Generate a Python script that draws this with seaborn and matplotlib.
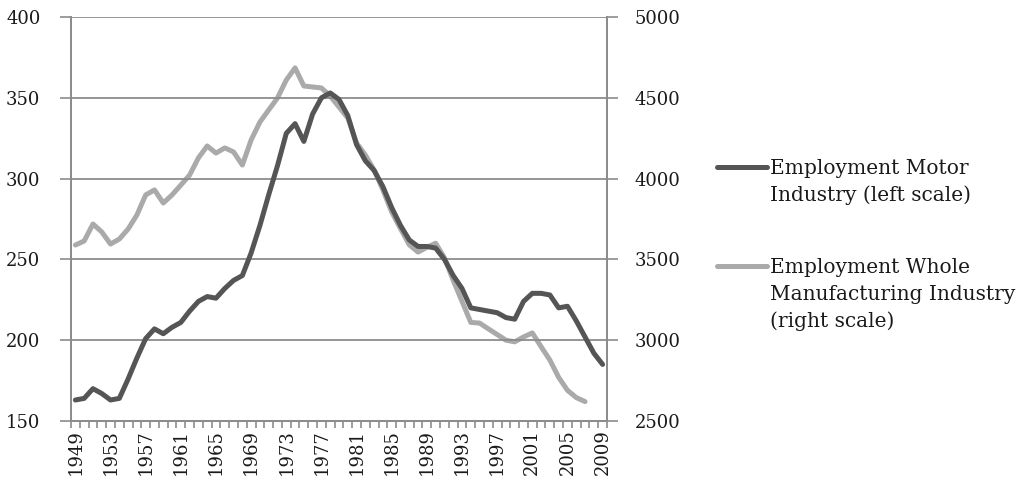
#Importing required libraries
import numpy as np
import pandas as pd
import matplotlib
matplotlib.use("Agg")
import matplotlib.pyplot as plt
from matplotlib.lines import Line2D
import seaborn as sns

#Data
years = list(range(1949, 2010))

motor = [163, 164, 170, 167, 163, 164, 176, 189, 201, 207,
         204, 208, 211, 218, 224, 227, 226, 232, 237, 240,
         254, 271, 290, 308, 328, 334, 323, 340, 350, 353,
         349, 339, 321, 311, 305, 295, 282, 271, 262, 258,
         258, 257, 250, 240, 232, 220, 219, 218, 217, 214,
         213, 224, 229, 229, 228, 220, 221, 212, 202, 192,
         185]

manufacturing = [3589, 3614, 3719, 3670, 3595, 3626, 3688, 3775, 3899, 3930,
                 3849, 3899, 3960, 4022, 4128, 4202, 4158, 4190, 4165, 4084,
                 4239, 4350, 4425, 4499, 4610, 4685, 4573, 4567, 4561, 4511,
                 4443, 4375, 4220, 4146, 4053, 3929, 3793, 3690, 3590, 3545,
                 3575, 3600, 3510, 3370, 3240, 3110, 3106, 3070, 3035, 3000,
                 2990, 3020, 3045, 2960, 2877, 2770, 2690, 2645, 2620]

left_ticks = [150, 200, 250, 300, 350, 400]
right_ticks = [2500, 3000, 3500, 4000, 4500, 5000]

label_motor = "Employment Motor\nIndustry (left scale)"
label_manuf = "Employment Whole\nManufacturing Industry\n(right scale)"

dark = "#555555"
light = "#aaaaaa"
axis_grey = "#8c8c8c"
text_col = "#1a1a1a"

#Building dataframes
df_motor = pd.DataFrame({"pos": np.arange(len(years)), "value": motor})
df_manuf = pd.DataFrame({"pos": np.arange(len(manufacturing)), "value": manufacturing})

sns.set_style("white")
plt.rcParams["font.family"] = ["DejaVu Serif"]
plt.rcParams["font.size"] = 13

fig = plt.figure(figsize=(10.17, 4.9), dpi=100)
ax = fig.add_axes([71/1017, 1-421/490, (607-71)/1017, (421-17)/490])
ax2 = ax.twinx()

#Gridlines (left scale) under the lines
ax.set_ylim(150, 400)
ax.set_yticks(left_ticks)
ax.yaxis.grid(True, color=axis_grey, linewidth=1.3)
ax.set_axisbelow(True)

ax2.set_ylim(2500, 5000)
ax2.set_yticks(right_ticks)

#Drawing the two series
sns.lineplot(data=df_manuf, x="pos", y="value", ax=ax2, color=light,
             linewidth=3.6, legend=False)
sns.lineplot(data=df_motor, x="pos", y="value", ax=ax, color=dark,
             linewidth=3.6, legend=False)
# motor line on top of the manufacturing line
ax.set_zorder(ax2.get_zorder() + 1)
ax.patch.set_visible(False)

#X axis as categories
ax.set_xlim(-0.5, len(years) - 0.5)
major = list(range(0, len(years), 4))
ax.set_xticks(major)
ax.set_xticklabels([str(years[i]) for i in major], rotation=90)
ax.set_xticks(np.arange(-0.5, len(years), 1), minor=True)
ax.tick_params(axis="x", which="major", length=0, pad=6)
ax.tick_params(axis="x", which="minor", length=5, width=1.2, color=axis_grey,
               direction="out", bottom=True)

ax.tick_params(axis="y", length=8, width=1.2, color=axis_grey, direction="out",
               pad=14, left=True)
ax2.tick_params(axis="y", length=8, width=1.2, color=axis_grey, direction="out",
                pad=12, right=True)

ax.set_xlabel("")
ax.set_ylabel("")
ax2.set_ylabel("")

for a in (ax, ax2):
    a.spines["top"].set_visible(False)
    for s in ("left", "right", "bottom"):
        a.spines[s].set_color(axis_grey)
        a.spines[s].set_linewidth(1.3)

#Legend drawn as handles plus text, with the handle at the first text line
def legend_entry(y_px, color, text):
    y = 1 - y_px / 490
    fig.add_artist(Line2D([717/1017, 767/1017], [y, y], color=color,
                          linewidth=3.6, solid_capstyle="round",
                          transform=fig.transFigure))
    fig.text(770/1017, y + 8/490, text, va="top", ha="left", fontsize=14.5,
             linespacing=1.5, color=text_col)

legend_entry(167, dark, label_motor)
legend_entry(266, light, label_manuf)

for t in ax.get_xticklabels() + ax.get_yticklabels() + ax2.get_yticklabels():
    t.set_color(text_col)

plt.savefig("out.png", dpi=100)
